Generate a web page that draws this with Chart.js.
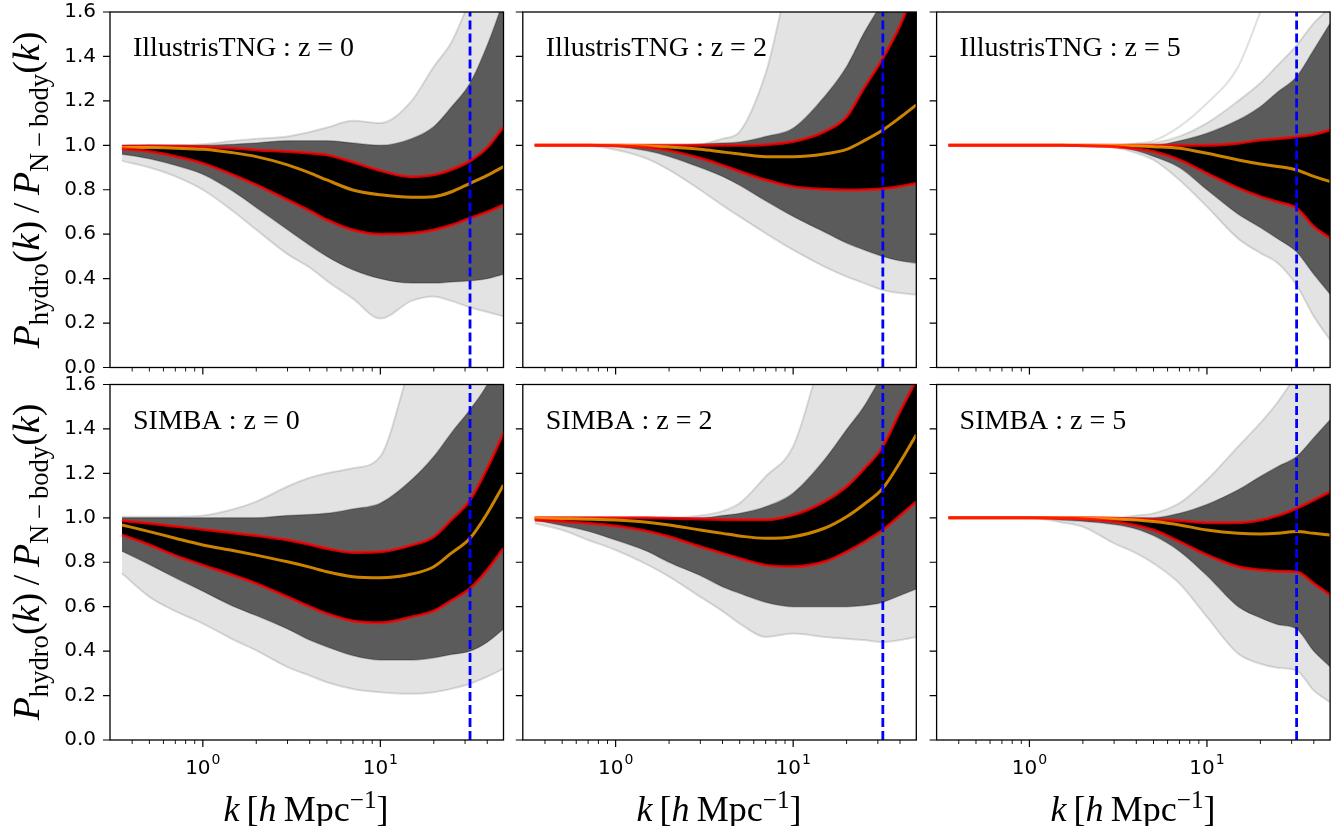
<!DOCTYPE html>
<html>
<head>
<meta charset="utf-8">
<title>Hydro / N-body power spectrum ratio</title>
<script src="https://cdn.jsdelivr.net/npm/chart.js@4.4.1/dist/chart.umd.min.js"></script>
<style>
  body { margin: 0; background: #fff; width: 1333px; height: 826px; overflow: hidden; position: relative; }
  canvas { position: absolute; left: 0; top: 0; }
  .ylab, .xlab { position: absolute; font-family: "Liberation Serif", serif; white-space: nowrap; color: #000; line-height: 1; }
  .ylab { font-size: 38px; transform: translate(-50%, -50%) rotate(-90deg); }
  .xlab { font-size: 36px; transform: translate(-50%, -50%); }
  .ylab sub { font-size: 0.7em; vertical-align: -0.32em; }
  .xlab sup { font-size: 0.7em; vertical-align: 0.55em; }
</style>
</head>
<body>
<canvas id="p0" width="1333" height="826"></canvas>
<canvas id="p1" width="1333" height="826"></canvas>
<canvas id="p2" width="1333" height="826"></canvas>
<canvas id="p3" width="1333" height="826"></canvas>
<canvas id="p4" width="1333" height="826"></canvas>
<canvas id="p5" width="1333" height="826"></canvas>

<div class="ylab" style="left:30px; top:190px;"><i>P</i><sub>hydro</sub>(<i>k</i>)&thinsp;/&thinsp;<i>P</i><sub>N&thinsp;−&thinsp;body</sub>(<i>k</i>)</div>
<div class="ylab" style="left:30px; top:562px;"><i>P</i><sub>hydro</sub>(<i>k</i>)&thinsp;/&thinsp;<i>P</i><sub>N&thinsp;−&thinsp;body</sub>(<i>k</i>)</div>
<div class="xlab" style="left:306px; top:807px;"><i>k</i>&thinsp;[<i>h</i>&thinsp;Mpc<sup>−1</sup>]</div>
<div class="xlab" style="left:719px; top:807px;"><i>k</i>&thinsp;[<i>h</i>&thinsp;Mpc<sup>−1</sup>]</div>
<div class="xlab" style="left:1133px; top:807px;"><i>k</i>&thinsp;[<i>h</i>&thinsp;Mpc<sup>−1</sup>]</div>

<script>
// wavenumbers the curves are sampled at (h/Mpc)
const kValues = [0.35, 0.5, 0.7, 1, 1.5, 2, 3, 4, 5, 7, 10, 15, 20, 25, 32, 40, 49.4];
const kCut = 32;   // dashed vertical marker

const yTickValues = [0, 0.2, 0.4, 0.6, 0.8, 1.0, 1.2, 1.4, 1.6];
const xMajorTicks = [1, 10];
const xTickExponents = [0, 1];
const xMinorTicks = [0.4, 0.5, 0.6, 0.7, 0.8, 0.9, 2, 3, 4, 5, 6, 7, 8, 9, 20, 30, 40];

// IllustrisTNG z=0
const tngZ0Min  = [0.93, 0.90, 0.86, 0.80, 0.70, 0.62, 0.51, 0.45, 0.39, 0.31, 0.22, 0.30, 0.32, 0.30, 0.27, 0.25, 0.23];
const tngZ0Low  = [0.96, 0.94, 0.91, 0.87, 0.79, 0.72, 0.62, 0.55, 0.50, 0.44, 0.40, 0.38, 0.38, 0.385, 0.39, 0.40, 0.42];
const tngZ0P16  = [0.985, 0.972, 0.95, 0.919, 0.865, 0.822, 0.754, 0.705, 0.664, 0.619, 0.60, 0.604, 0.619, 0.64, 0.672, 0.70, 0.732];
const tngZ0Med  = [0.99, 0.99, 0.987, 0.982, 0.966, 0.949, 0.912, 0.876, 0.844, 0.799, 0.777, 0.766, 0.769, 0.79, 0.829, 0.865, 0.904];
const tngZ0P84  = [0.995, 0.997, 0.996, 0.994, 0.987, 0.979, 0.972, 0.965, 0.957, 0.925, 0.886, 0.859, 0.867, 0.89, 0.93, 0.99, 1.084];
const tngZ0High = [1.0, 1.0, 1.0, 1.0, 1.005, 1.01, 1.02, 1.02, 1.02, 1.01, 1.0, 1.03, 1.084, 1.17, 1.28, 1.45, 1.65];
const tngZ0Max  = [1.0, 1.0, 1.0, 1.005, 1.02, 1.03, 1.04, 1.06, 1.08, 1.11, 1.10, 1.20, 1.354, 1.46, 1.65, 1.8, 1.9];

// IllustrisTNG z=2
const tngZ2Min  = [1.0, 1.0, 0.998, 0.98, 0.94, 0.889, 0.799, 0.73, 0.679, 0.604, 0.529, 0.454, 0.409, 0.38, 0.349, 0.335, 0.327];
const tngZ2Low  = [1.0, 1.0, 1.0, 0.995, 0.975, 0.95, 0.90, 0.86, 0.82, 0.75, 0.68, 0.61, 0.56, 0.53, 0.50, 0.48, 0.47];
const tngZ2P16  = [1.0, 1.0, 1.0, 0.998, 0.99, 0.976, 0.942, 0.91, 0.882, 0.844, 0.814, 0.802, 0.799, 0.80, 0.804, 0.815, 0.829];
const tngZ2Med  = [1.0, 1.0, 1.0, 1.0, 0.997, 0.992, 0.982, 0.97, 0.961, 0.949, 0.949, 0.961, 0.982, 1.02, 1.069, 1.125, 1.182];
const tngZ2P84  = [1.0, 1.0, 1.0, 1.0, 1.0, 1.0, 1.0, 1.0, 1.0, 1.003, 1.017, 1.062, 1.129, 1.257, 1.392, 1.54, 1.72];
const tngZ2High = [1.0, 1.0, 1.0, 1.0, 1.0, 1.0, 1.005, 1.01, 1.015, 1.04, 1.077, 1.219, 1.354, 1.504, 1.65, 1.8, 1.9];
const tngZ2Max  = [1.0, 1.0, 1.0, 1.0, 1.0, 1.0, 1.005, 1.03, 1.062, 1.324, 1.8, 1.9, 1.9, 1.9, 1.9, 1.9, 1.9];

// IllustrisTNG z=5
const tngZ5Min   = [1.0, 1.0, 1.0, 1.0, 1.0, 1.0, 0.99, 0.965, 0.934, 0.844, 0.724, 0.58, 0.515, 0.47, 0.37, 0.23, 0.124];
const tngZ5Low   = [1.0, 1.0, 1.0, 1.0, 1.0, 1.0, 0.995, 0.975, 0.95, 0.90, 0.80, 0.69, 0.63, 0.58, 0.52, 0.42, 0.33];
const tngZ5P16   = [1.0, 1.0, 1.0, 1.0, 1.0, 0.998, 0.994, 0.984, 0.972, 0.934, 0.874, 0.807, 0.769, 0.745, 0.717, 0.634, 0.582];
const tngZ5Med   = [1.0, 1.0, 1.0, 1.0, 1.0, 1.0, 0.999, 0.997, 0.994, 0.987, 0.964, 0.934, 0.916, 0.905, 0.889, 0.86, 0.837];
const tngZ5P84   = [1.0, 1.0, 1.0, 1.0, 1.0, 1.0, 1.0, 1.0, 1.0, 1.0, 1.0, 1.009, 1.024, 1.03, 1.039, 1.05, 1.069];
const tngZ5High  = [1.0, 1.0, 1.0, 1.0, 1.0, 1.0, 1.0, 1.0, 1.0, 1.02, 1.054, 1.114, 1.174, 1.24, 1.309, 1.43, 1.549];
const tngZ5Max   = [1.0, 1.0, 1.0, 1.0, 1.0, 1.0, 1.0, 1.005, 1.01, 1.04, 1.10, 1.20, 1.28, 1.36, 1.45, 1.55, 1.62];
const tngZ5Stray = [1.0, 1.0, 1.0, 1.0, 1.0, 1.0, 1.0, 1.008, 1.02, 1.084, 1.189, 1.354, 1.6, 1.8, 1.95, 2.0, 2.0];

// SIMBA z=0
const simZ0Min  = [0.75, 0.644, 0.58, 0.524, 0.45, 0.403, 0.328, 0.29, 0.26, 0.23, 0.215, 0.208, 0.215, 0.23, 0.253, 0.285, 0.321];
const simZ0Low  = [0.85, 0.79, 0.73, 0.67, 0.60, 0.56, 0.50, 0.45, 0.42, 0.38, 0.36, 0.36, 0.37, 0.385, 0.40, 0.44, 0.50];
const simZ0P16  = [0.923, 0.878, 0.83, 0.787, 0.74, 0.704, 0.644, 0.60, 0.569, 0.536, 0.528, 0.554, 0.581, 0.627, 0.682, 0.765, 0.863];
const simZ0Med  = [0.968, 0.938, 0.908, 0.878, 0.852, 0.832, 0.802, 0.778, 0.757, 0.735, 0.73, 0.747, 0.78, 0.84, 0.908, 1.02, 1.148];
const simZ0P84  = [0.987, 0.975, 0.962, 0.948, 0.932, 0.92, 0.90, 0.88, 0.862, 0.844, 0.847, 0.877, 0.915, 0.99, 1.081, 1.224, 1.382];
const simZ0High = [1.0, 1.0, 1.0, 1.0, 1.0, 1.0, 1.01, 1.015, 1.02, 1.04, 1.066, 1.171, 1.276, 1.38, 1.487, 1.6, 1.75];
const simZ0Max  = [1.005, 1.005, 1.005, 1.01, 1.04, 1.073, 1.141, 1.18, 1.201, 1.223, 1.276, 1.7, 1.9, 1.9, 1.9, 1.9, 1.9];

// SIMBA z=2
const simZ2Min  = [0.975, 0.945, 0.90, 0.855, 0.79, 0.735, 0.644, 0.58, 0.524, 0.464, 0.479, 0.464, 0.456, 0.45, 0.441, 0.45, 0.464];
const simZ2Low  = [0.99, 0.965, 0.94, 0.90, 0.85, 0.80, 0.74, 0.69, 0.66, 0.62, 0.60, 0.60, 0.60, 0.605, 0.62, 0.65, 0.68];
const simZ2P16  = [0.99, 0.983, 0.975, 0.963, 0.94, 0.915, 0.87, 0.84, 0.817, 0.787, 0.78, 0.802, 0.847, 0.89, 0.945, 1.01, 1.073];
const simZ2Med  = [0.998, 0.996, 0.994, 0.99, 0.98, 0.968, 0.945, 0.93, 0.918, 0.908, 0.915, 0.953, 1.005, 1.06, 1.133, 1.25, 1.374];
const simZ2P84  = [1.0, 1.0, 1.0, 1.0, 1.0, 0.998, 0.995, 0.992, 0.991, 0.991, 1.013, 1.073, 1.141, 1.22, 1.321, 1.479, 1.62];
const simZ2High = [1.0, 1.0, 1.0, 1.0, 1.0, 1.0, 1.0, 1.01, 1.02, 1.05, 1.111, 1.261, 1.397, 1.5, 1.65, 1.8, 1.9];
const simZ2Max  = [1.0, 1.0, 1.0, 1.0, 1.0, 1.0, 1.01, 1.03, 1.066, 1.186, 1.321, 1.75, 1.9, 1.9, 1.9, 1.9, 1.9];

// SIMBA z=5
const simZ5Min  = [1.0, 1.0, 1.0, 1.0, 0.98, 0.96, 0.885, 0.84, 0.795, 0.704, 0.554, 0.388, 0.343, 0.325, 0.313, 0.223, 0.17];
const simZ5Low  = [1.0, 1.0, 1.0, 1.0, 0.99, 0.985, 0.97, 0.95, 0.92, 0.85, 0.74, 0.60, 0.55, 0.52, 0.50, 0.40, 0.33];
const simZ5P16  = [1.0, 1.0, 1.0, 1.0, 0.998, 0.995, 0.983, 0.965, 0.945, 0.893, 0.833, 0.78, 0.765, 0.76, 0.757, 0.704, 0.652];
const simZ5Med  = [1.0, 1.0, 1.0, 1.0, 1.0, 0.998, 0.995, 0.99, 0.983, 0.968, 0.945, 0.93, 0.927, 0.93, 0.938, 0.93, 0.923];
const simZ5P84  = [1.0, 1.0, 1.0, 1.0, 1.0, 1.0, 0.998, 0.995, 0.992, 0.987, 0.978, 0.978, 0.99, 1.01, 1.043, 1.08, 1.118];
const simZ5High = [1.0, 1.0, 1.0, 1.0, 1.0, 1.0, 1.0, 1.0, 1.0, 1.02, 1.06, 1.126, 1.186, 1.23, 1.276, 1.36, 1.441];
const simZ5Max  = [1.0, 1.0, 1.0, 1.0, 1.0, 1.0, 1.0, 1.01, 1.02, 1.066, 1.171, 1.321, 1.427, 1.52, 1.65, 1.8, 1.9];

const PAGE_W = 1333, PAGE_H = 826;
const PANEL_W = 393.5, PANEL_H = 355.5;

const panels = [
  { title: 'IllustrisTNG : z = 0', left: 110,   top: 12,  yLabels: true,  xLabels: false,
    min: tngZ0Min, low: tngZ0Low, p16: tngZ0P16, median: tngZ0Med, p84: tngZ0P84, high: tngZ0High, max: tngZ0Max },
  { title: 'IllustrisTNG : z = 2', left: 522.8, top: 12,  yLabels: false, xLabels: false,
    min: tngZ2Min, low: tngZ2Low, p16: tngZ2P16, median: tngZ2Med, p84: tngZ2P84, high: tngZ2High, max: tngZ2Max },
  { title: 'IllustrisTNG : z = 5', left: 936.6, top: 12,  yLabels: false, xLabels: false,
    min: tngZ5Min, low: tngZ5Low, p16: tngZ5P16, median: tngZ5Med, p84: tngZ5P84, high: tngZ5High, max: tngZ5Max, stray: tngZ5Stray },
  { title: 'SIMBA : z = 0', left: 110,   top: 384.5, yLabels: true,  xLabels: true,
    min: simZ0Min, low: simZ0Low, p16: simZ0P16, median: simZ0Med, p84: simZ0P84, high: simZ0High, max: simZ0Max },
  { title: 'SIMBA : z = 2', left: 522.8, top: 384.5, yLabels: false, xLabels: true,
    min: simZ2Min, low: simZ2Low, p16: simZ2P16, median: simZ2Med, p84: simZ2P84, high: simZ2High, max: simZ2Max },
  { title: 'SIMBA : z = 5', left: 936.6, top: 384.5, yLabels: false, xLabels: true,
    min: simZ5Min, low: simZ5Low, p16: simZ5P16, median: simZ5Med, p84: simZ5P84, high: simZ5High, max: simZ5Max }
];

const RED = 'rgba(255, 0, 0, 0.8)';
const ORANGE = 'rgba(255, 165, 0, 0.8)';

// frame, ticks, tick labels and panel title, drawn from the chart's own scales
const panelAxes = {
  id: 'panelAxes',
  afterDraw(chart, args, opts) {
    const { ctx, chartArea: a } = chart;
    const xs = chart.scales.x, ys = chart.scales.y;
    ctx.save();
    ctx.strokeStyle = '#000';
    ctx.lineWidth = 1.3;
    ctx.strokeRect(a.left, a.top, a.right - a.left, a.bottom - a.top);

    ctx.lineWidth = 1.2;
    ctx.beginPath();
    yTickValues.forEach(v => {
      const py = ys.getPixelForValue(v);
      ctx.moveTo(a.left - 7, py);
      ctx.lineTo(a.left, py);
    });
    xMajorTicks.forEach(v => {
      const px = xs.getPixelForValue(v);
      ctx.moveTo(px, a.bottom);
      ctx.lineTo(px, a.bottom + 7);
    });
    ctx.stroke();

    ctx.lineWidth = 0.9;
    ctx.beginPath();
    xMinorTicks.forEach(v => {
      if (v < xs.min || v > xs.max) return;
      const px = xs.getPixelForValue(v);
      ctx.moveTo(px, a.bottom);
      ctx.lineTo(px, a.bottom + 4);
    });
    ctx.stroke();

    ctx.fillStyle = '#000';
    if (opts.yLabels) {
      ctx.font = '20px "DejaVu Sans"';
      ctx.textAlign = 'right';
      ctx.textBaseline = 'middle';
      yTickValues.forEach(v => ctx.fillText(v.toFixed(1), a.left - 14, ys.getPixelForValue(v)));
    }
    if (opts.xLabels) {
      ctx.textAlign = 'left';
      ctx.textBaseline = 'alphabetic';
      xMajorTicks.forEach((v, i) => {
        const px = xs.getPixelForValue(v);
        const exp = String(xTickExponents[i]);
        ctx.font = '20px "DejaVu Sans"';
        const w1 = ctx.measureText('10').width;
        ctx.font = '14px "DejaVu Sans"';
        const w2 = ctx.measureText(exp).width;
        const x0 = px - (w1 + w2 + 1) / 2;
        ctx.font = '20px "DejaVu Sans"';
        ctx.fillText('10', x0, a.bottom + 34);
        ctx.font = '14px "DejaVu Sans"';
        ctx.fillText(exp, x0 + w1 + 1, a.bottom + 24);
      });
    }

    ctx.font = '28px "Liberation Serif"';
    ctx.textAlign = 'left';
    ctx.textBaseline = 'alphabetic';
    ctx.fillText(opts.title, a.left + 23, a.top + 44);
    ctx.restore();
  }
};

function buildDatasets(p) {
  const pts = arr => kValues.map((k, i) => ({ x: k, y: arr[i] }));
  const sets = [
    // 0,1: full spread of the runs
    { data: pts(p.min), borderColor: 'rgba(0,0,0,0.13)', borderWidth: 2, fill: false, order: 10 },
    { data: pts(p.max), borderColor: 'rgba(0,0,0,0.13)', borderWidth: 2, fill: { target: 0 },
      backgroundColor: 'rgba(0,0,0,0.11)', order: 9 },
    // 2,3: where most runs pile up
    { data: pts(p.low), borderColor: 'rgba(0,0,0,0.25)', borderWidth: 1.5, fill: false, order: 8 },
    { data: pts(p.high), borderColor: 'rgba(0,0,0,0.25)', borderWidth: 1.5, fill: { target: 2 },
      backgroundColor: 'rgba(0,0,0,0.6)', order: 7 },
    // 4,5: 16th / 84th percentiles, black in between
    { data: pts(p.p16), borderColor: RED, borderWidth: 3, fill: false, order: 3 },
    { data: pts(p.p84), borderColor: RED, borderWidth: 3, fill: { target: 4 },
      backgroundColor: '#000', order: 5 },
    // 6: median
    { data: pts(p.median), borderColor: ORANGE, borderWidth: 3, fill: false, order: 4 },
    // 7: k cut
    { data: [{ x: kCut, y: 0 }, { x: kCut, y: 1.6 }], borderColor: '#0000ff', borderWidth: 2.8,
      borderDash: [9, 4], fill: false, order: 0, cubicInterpolationMode: 'default', tension: 0 }
  ];
  if (p.stray) {
    sets.push({ data: pts(p.stray), borderColor: 'rgba(0,0,0,0.12)', borderWidth: 2, fill: false, order: 11 });
  }
  return sets;
}

panels.forEach((p, idx) => {
  const canvas = document.getElementById('p' + idx);
  new Chart(canvas.getContext('2d'), {
    type: 'line',
    data: { datasets: buildDatasets(p) },
    options: {
      responsive: false,
      animation: false,
      events: [],
      layout: {
        padding: {
          left: p.left,
          top: p.top,
          right: PAGE_W - (p.left + PANEL_W),
          bottom: PAGE_H - (p.top + PANEL_H)
        }
      },
      elements: {
        point: { radius: 0 },
        line: { cubicInterpolationMode: 'monotone' }
      },
      scales: {
        x: { type: 'logarithmic', min: 0.3027, max: 49.4, display: false },
        y: { type: 'linear', min: 0, max: 1.6, display: false }
      },
      plugins: {
        legend: { display: false },
        tooltip: { enabled: false },
        panelAxes: { title: p.title, yLabels: p.yLabels, xLabels: p.xLabels }
      }
    },
    plugins: [panelAxes]
  });
});
</script>
</body>
</html>
